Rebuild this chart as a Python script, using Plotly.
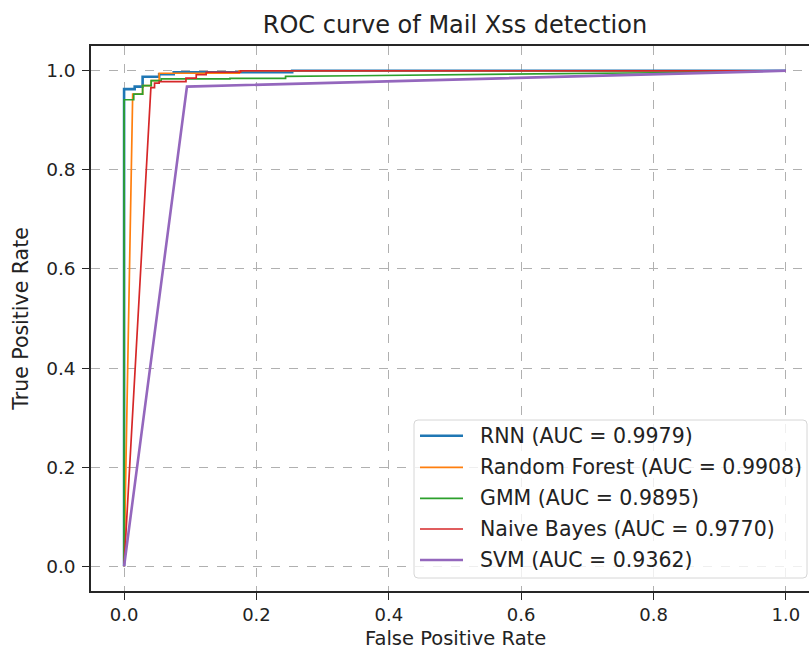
import plotly.graph_objects as go

# ---- data ----
rnn_fpr = [0.0, 0.0, 0.016, 0.016, 0.028, 0.028, 0.053, 0.053, 0.075, 0.075, 0.254, 0.254, 1.0]
rnn_tpr = [0.0, 0.963, 0.963, 0.968, 0.968, 0.988, 0.988, 0.993, 0.993, 0.997, 0.997, 1.0, 1.0]

rf_fpr = [0.0, 0.013, 0.013, 0.028, 0.028, 0.041, 0.041, 0.053, 0.053, 0.174, 0.174, 1.0]
rf_tpr = [0.0, 0.94, 0.953, 0.953, 0.97, 0.97, 0.98, 0.98, 0.995, 0.995, 1.0, 1.0]

gmm_fpr = [0.0, 0.0, 0.0146, 0.0146, 0.028, 0.028, 0.041, 0.041, 0.056, 0.056, 0.16, 0.16, 0.244, 0.244, 0.35, 0.5, 0.63, 0.8, 1.0]
gmm_tpr = [0.0, 0.9415, 0.9415, 0.953, 0.953, 0.970, 0.970, 0.980, 0.980, 0.9835, 0.9835, 0.9845, 0.9845, 0.9886, 0.990, 0.9915, 0.993, 0.996, 1.0]

nb_fpr = [0.0, 0.0405, 0.046, 0.046, 0.053, 0.053, 0.0935, 0.0935, 0.109, 0.109, 0.124, 0.124, 0.176, 0.176, 1.0]
nb_tpr = [0.0, 0.966, 0.966, 0.975, 0.975, 0.978, 0.978, 0.985, 0.985, 0.992, 0.992, 0.997, 0.997, 1.0, 1.0]

svm_fpr = [0.0, 0.095, 1.0]
svm_tpr = [0.0, 0.968, 1.0]

names = ["RNN (AUC = 0.9979)", "Random Forest (AUC = 0.9908)", "GMM (AUC = 0.9895)",
         "Naive Bayes (AUC = 0.9770)", "SVM (AUC = 0.9362)"]
colors = ["#1f77b4", "#ff7f0e", "#2ca02c", "#d62728", "#9467bd"]
widths = [2.6, 1.7, 1.7, 1.7, 2.6]

tick_vals = [0, 0.2, 0.4, 0.6, 0.8, 1.0]
tick_text = ["0.0", "0.2", "0.4", "0.6", "0.8", "1.0"]

series = [(rnn_fpr, rnn_tpr), (rf_fpr, rf_tpr), (gmm_fpr, gmm_tpr), (nb_fpr, nb_tpr), (svm_fpr, svm_tpr)]

FONT = "DejaVu Sans"
TXT = "#222222"
W, H = 809, 651
ML, MR, MT, MB = 91, 0, 46, 60
PW, PH = W - ML - MR, H - MT - MB

def px(xp):
    return (xp - ML) / PW

def py(yp):
    return (H - MB - yp) / PH

fig = go.Figure()
for (x, y), n, c, w in zip(series, names, colors, widths):
    fig.add_trace(go.Scatter(x=x, y=y, mode="lines", name=n,
                             line=dict(color=c, width=w), showlegend=False))

# ---- custom legend box (matplotlib-style) ----
bx0, bx1, by0, by1 = px(414), px(807), py(578), py(420)
rx, ry = 4 / PW, 4 / PH
path = (f"M {bx0+rx},{by0} L {bx1-rx},{by0} Q {bx1},{by0} {bx1},{by0+ry} "
        f"L {bx1},{by1-ry} Q {bx1},{by1} {bx1-rx},{by1} L {bx0+rx},{by1} "
        f"Q {bx0},{by1} {bx0},{by1-ry} L {bx0},{by0+ry} Q {bx0},{by0} {bx0+rx},{by0} Z")
shapes = [dict(type="path", path=path, xref="paper", yref="paper",
               fillcolor="rgba(255,255,255,0.8)", line=dict(color="#d6d6d6", width=1),
               layer="above")]
annotations = []
row_y = [435.7, 467.3, 498.3, 529.0, 560.0]
for ry_px, n, c, w in zip(row_y, names, colors, widths):
    shapes.append(dict(type="line", xref="paper", yref="paper",
                       x0=px(420), x1=px(463), y0=py(ry_px), y1=py(ry_px),
                       line=dict(color=c, width=w), layer="above"))
    annotations.append(dict(text=n, xref="paper", yref="paper", x=px(478), y=py(ry_px),
                            xanchor="left", yanchor="middle", showarrow=False,
                            font=dict(family=FONT, size=20.5, color=TXT)))

# x-axis title placed as an annotation below the tick labels
annotations.append(dict(text="False Positive Rate", xref="paper", yref="paper",
                        x=px(455), y=py(651), xanchor="center", yanchor="bottom",
                        borderpad=0, showarrow=False,
                        font=dict(family=FONT, size=19.5, color=TXT)))

fig.update_layout(
    width=W, height=H,
    margin=dict(l=ML, r=MR, t=MT, b=MB),
    paper_bgcolor="white", plot_bgcolor="white",
    font=dict(family=FONT, size=18, color=TXT),
    title=dict(text="ROC curve of Mail Xss detection", x=455 / W, xanchor="center",
               y=1 - 25 / H, yanchor="middle", yref="container",
               font=dict(family=FONT, size=24, color=TXT)),
    showlegend=False,
    shapes=shapes,
    annotations=annotations,
)

fig.update_xaxes(
    range=[-0.05, 1.0349], tickvals=tick_vals, ticktext=tick_text,
    showgrid=True, gridcolor="#b0b0b0", griddash="dash", gridwidth=1,
    zeroline=False, showline=True, linecolor="#262626", linewidth=1.5, mirror=True,
    ticks="outside", ticklen=7, tickcolor="#262626", ticklabelstandoff=0,
    tickfont=dict(family=FONT, size=18, color=TXT), automargin=False,
)
fig.update_yaxes(
    range=[-0.05, 1.05], tickvals=tick_vals, ticktext=tick_text,
    showgrid=True, gridcolor="#b0b0b0", griddash="dash", gridwidth=1,
    zeroline=False, showline=True, linecolor="#262626", linewidth=1.5, mirror=False,
    ticks="outside", ticklen=7, tickcolor="#262626", ticklabelstandoff=3,
    tickfont=dict(family=FONT, size=18.5, color=TXT),
    title=dict(text="True Positive Rate", standoff=12, font=dict(family=FONT, size=20.5, color=TXT)),
)

fig.write_html("out.html")
